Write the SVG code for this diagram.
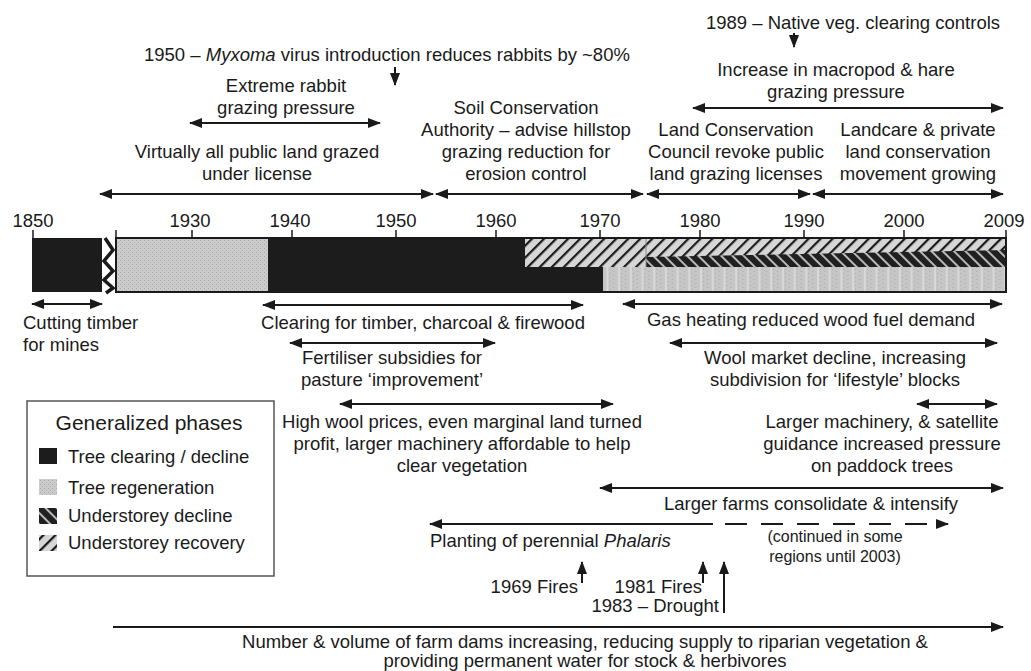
<svg xmlns="http://www.w3.org/2000/svg" width="1031" height="671" viewBox="0 0 1031 671">
<style>
text{font-family:"Liberation Sans",Arial,sans-serif;font-size:18.5px;fill:#1a1a1a}
.m{text-anchor:middle}
.e{text-anchor:end}
.it{font-style:italic}
.sm{font-size:16px}
.ttl{font-size:21px}
#connectors line{stroke:#1a1a1a;stroke-width:2;fill:none}
.a2{marker-start:url(#ah);marker-end:url(#ah)}
.a1{marker-end:url(#ah)}
.dash{stroke-dasharray:22 14}
.tick{stroke:#1a1a1a;stroke-width:1.5}
.blk{fill:#1c1c1c}
</style>
<defs>
<marker id="ah" viewBox="0 0 13 10" refX="12" refY="5" markerWidth="13" markerHeight="10" markerUnits="userSpaceOnUse" orient="auto-start-reverse"><path d="M0,0 L13,5 L0,10 z" fill="#1a1a1a"/></marker>
<pattern id="stip" width="4" height="4" patternUnits="userSpaceOnUse"><rect width="4" height="4" fill="#cbcbcb"/><rect x="0" y="0" width="1" height="1" fill="#a6a6a6"/><rect x="2" y="2" width="1" height="1" fill="#afafaf"/></pattern>
<pattern id="vstrip" width="11.7" height="4" patternUnits="userSpaceOnUse"><rect width="11.7" height="4" fill="#c6c6c6"/><rect x="1" y="1" width="1" height="1" fill="#a8a8a8"/><rect x="5" y="3" width="1" height="1" fill="#a8a8a8"/><rect x="10" y="0" width="1.5" height="4" fill="#dedede"/></pattern>
<pattern id="rec" width="8.5" height="10" patternUnits="userSpaceOnUse" patternTransform="rotate(45)"><rect width="8.5" height="10" fill="#d6d6d6"/><rect width="2.2" height="10" fill="#1a1a1a"/></pattern>
<pattern id="dec" width="8" height="10" patternUnits="userSpaceOnUse" patternTransform="rotate(-45)"><rect width="8" height="10" fill="#202020"/><rect width="2" height="10" fill="#b8b8b8"/></pattern>
</defs>
<rect width="1031" height="671" fill="#ffffff"/>

<g id="timeline-bar">
<rect class="blk" x="32" y="238" width="70" height="54"/>
<polyline points="105,238 113,250 104,261 113,271 104,280 113,288 106,293" fill="none" stroke="#1a1a1a" stroke-width="3.5" stroke-linejoin="miter"/>
<rect x="116" y="238" width="152" height="54" fill="url(#stip)"/>
<rect class="blk" x="268" y="238" width="335" height="54"/>
<rect x="603" y="267" width="403" height="25" fill="url(#vstrip)"/>
<rect x="525" y="238" width="121" height="29" fill="url(#rec)"/>
<rect x="646" y="238" width="360" height="29" fill="url(#rec)"/>
<polygon points="646,257 1006,250 1006,267 646,267" fill="url(#dec)"/>
<line x1="646" y1="238" x2="646" y2="267" stroke="#888" stroke-width="1"/>
<rect x="116" y="238" width="890" height="54" fill="none" stroke="#1a1a1a" stroke-width="2"/>
<line class="tick" x1="33" y1="230" x2="33" y2="238"/>
<line class="tick" x1="116" y1="230" x2="116" y2="238"/>
<line class="tick" x1="192" y1="230" x2="192" y2="238"/>
<line class="tick" x1="292" y1="230" x2="292" y2="238"/>
<line class="tick" x1="396" y1="230" x2="396" y2="238"/>
<line class="tick" x1="496" y1="230" x2="496" y2="238"/>
<line class="tick" x1="600" y1="230" x2="600" y2="238"/>
<line class="tick" x1="700" y1="230" x2="700" y2="238"/>
<line class="tick" x1="804" y1="230" x2="804" y2="238"/>
<line class="tick" x1="904" y1="230" x2="904" y2="238"/>
<line class="tick" x1="1006" y1="230" x2="1006" y2="238"/>
</g>

<g id="year-labels">
<text class="m" x="33" y="227">1850</text>
<text class="m" x="190" y="227">1930</text>
<text class="m" x="290" y="227">1940</text>
<text class="m" x="396" y="227">1950</text>
<text class="m" x="496" y="227">1960</text>
<text class="m" x="600" y="227">1970</text>
<text class="m" x="700" y="227">1980</text>
<text class="m" x="804" y="227">1990</text>
<text class="m" x="904" y="227">2000</text>
<text class="m" x="1004" y="227">2009</text>
</g>

<g id="connectors">
<line class="a1" x1="794" y1="33" x2="794" y2="47"/>
<line class="a1" x1="395" y1="67" x2="395" y2="85"/>
<line class="a2" x1="693" y1="108" x2="1003" y2="108"/>
<line class="a2" x1="190" y1="123" x2="380" y2="123"/>
<line class="a2" x1="100" y1="194" x2="433" y2="194"/>
<line class="a2" x1="436" y1="194" x2="643" y2="194"/>
<line class="a2" x1="647" y1="194" x2="810" y2="194"/>
<line class="a2" x1="813" y1="194" x2="1003" y2="194"/>
<line class="a2" x1="32" y1="304" x2="102" y2="304"/>
<line class="a2" x1="263" y1="305" x2="583" y2="305"/>
<line class="a2" x1="623" y1="304" x2="1002" y2="304"/>
<line class="a2" x1="290" y1="343" x2="495" y2="343"/>
<line class="a2" x1="670" y1="343" x2="997" y2="343"/>
<line class="a2" x1="340" y1="404" x2="613" y2="404"/>
<line class="a2" x1="917" y1="404" x2="997" y2="404"/>
<line class="a2" x1="600" y1="488" x2="1003" y2="488"/>
<line class="a1" x1="713" y1="524" x2="430" y2="524"/>
<line class="a1 dash" x1="725" y1="524" x2="948" y2="524"/>
<line class="a1" x1="582" y1="583" x2="582" y2="562"/>
<line class="a1" x1="703" y1="583" x2="703" y2="562"/>
<line class="a1" x1="724" y1="613" x2="724" y2="562"/>
<line class="a1" x1="113" y1="627" x2="1003" y2="627"/>
</g>

<g id="n-1989"><text class="m" x="853" y="29">1989 – Native veg. clearing controls</text></g>
<g id="n-myxoma"><text x="144" y="61">1950 – <tspan class="it">Myxoma</tspan> virus introduction reduces rabbits by ~80%</text></g>
<g id="n-macropod"><text class="m" x="836" y="76">Increase in macropod &amp; hare</text><text class="m" x="836" y="98">grazing pressure</text></g>
<g id="n-rabbit"><text class="m" x="286" y="92">Extreme rabbit</text><text class="m" x="286" y="114">grazing pressure</text></g>
<g id="n-public"><text class="m" x="257" y="158">Virtually all public land grazed</text><text class="m" x="257" y="180">under license</text></g>
<g id="n-soil"><text class="m" x="526" y="114">Soil Conservation</text><text class="m" x="526" y="136">Authority – advise hillstop</text><text class="m" x="526" y="158">grazing reduction for</text><text class="m" x="526" y="180">erosion control</text></g>
<g id="n-lcc"><text class="m" x="736" y="136">Land Conservation</text><text class="m" x="736" y="158">Council revoke public</text><text class="m" x="736" y="180">land grazing licenses</text></g>
<g id="n-landcare"><text class="m" x="918" y="136">Landcare &amp; private</text><text class="m" x="918" y="158">land conservation</text><text class="m" x="918" y="180">movement growing</text></g>

<g id="n-timber"><text x="23" y="329">Cutting timber</text><text x="23" y="351">for mines</text></g>
<g id="n-clearing"><text class="m" x="423" y="329">Clearing for timber, charcoal &amp; firewood</text></g>
<g id="n-gas"><text class="m" x="811" y="326">Gas heating reduced wood fuel demand</text></g>
<g id="n-fert"><text class="m" x="392" y="364">Fertiliser subsidies for</text><text class="m" x="392" y="386">pasture ‘improvement’</text></g>
<g id="n-woolmkt"><text class="m" x="835" y="364">Wool market decline, increasing</text><text class="m" x="835" y="386">subdivision for ‘lifestyle’ blocks</text></g>
<g id="n-highwool"><text class="m" x="462" y="428">High wool prices, even marginal land turned</text><text class="m" x="462" y="450">profit, larger machinery affordable to help</text><text class="m" x="462" y="472">clear vegetation</text></g>
<g id="n-machinery"><text class="m" x="882" y="428">Larger machinery, &amp; satellite</text><text class="m" x="882" y="450">guidance increased pressure</text><text class="m" x="882" y="472">on paddock trees</text></g>
<g id="n-farms"><text class="m" x="811" y="510">Larger farms consolidate &amp; intensify</text></g>
<g id="n-phalaris"><text x="430" y="547">Planting of perennial <tspan class="it">Phalaris</tspan></text><text class="m sm" x="835" y="542">(continued in some</text><text class="m sm" x="835" y="562">regions until 2003)</text></g>
<g id="n-fires69"><text class="e" x="578" y="593">1969 Fires</text></g>
<g id="n-fires81"><text class="e" x="702" y="593">1981 Fires</text></g>
<g id="n-drought"><text class="e" x="719" y="612">1983 – Drought</text></g>
<g id="n-dams"><text class="m" x="585" y="648">Number &amp; volume of farm dams increasing, reducing supply to riparian vegetation &amp;</text><text class="m" x="585" y="667">providing permanent water for stock &amp; herbivores</text></g>

<g id="legend">
<rect x="27" y="401" width="247" height="175" fill="#ffffff" stroke="#555" stroke-width="1.5"/>
<text class="m ttl" x="149" y="430">Generalized phases</text>
<rect class="blk" x="39" y="448" width="18" height="16"/>
<text x="68" y="463">Tree clearing / decline</text>
<rect x="39" y="479" width="18" height="16" fill="url(#stip)"/>
<text x="68" y="494">Tree regeneration</text>
<rect x="39" y="508" width="18" height="16" fill="url(#dec)"/>
<text x="68" y="522">Understorey decline</text>
<rect x="39" y="535" width="18" height="16" fill="url(#rec)"/>
<text x="68" y="549">Understorey recovery</text>
</g>
</svg>
